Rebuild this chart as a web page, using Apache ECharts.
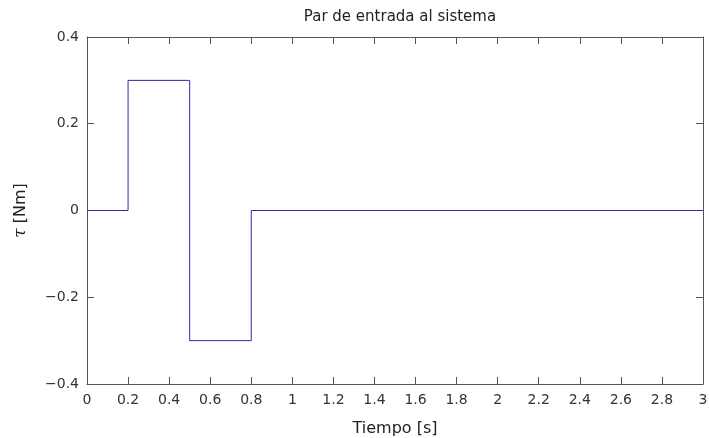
<!DOCTYPE html>
<html><head><meta charset="utf-8">
<script src="https://cdn.jsdelivr.net/npm/echarts@6/dist/echarts.min.js"></script>
<style>html,body{margin:0;padding:0;background:#fff}#c{width:709px;height:438px}</style>
</head><body><div id="c"></div>
<script>
const times = [0, 0.2, 0.5, 0.8, 3];
const torque = [0, 0.3, -0.3, 0, 0];
const xTicks = [0, 3, 0.2];
const yTicks = [-0.4, 0.4, 0.2];
const titleText = 'Par de entrada al sistema';
const xName = 'Tiempo [s]';

const font = 'DejaVu Sans';
const axisCol = '#555';
const lab = {color: '#333', fontFamily: font, fontSize: 14};
function fmt(v){ return (Math.abs(v) < 1e-9 ? '0' : String(+v.toFixed(1))).replace('-', '\u2212'); }

const chart = echarts.init(document.getElementById('c'));
const baseX = {type: 'value', min: xTicks[0], max: xTicks[1], interval: xTicks[2],
  axisLine: {show: true, onZero: false, lineStyle: {color: axisCol}},
  axisTick: {show: true, inside: true, length: 7, lineStyle: {color: axisCol}},
  splitLine: {show: false}};
const baseY = {type: 'value', min: yTicks[0], max: yTicks[1], interval: yTicks[2],
  axisLine: {show: true, onZero: false, lineStyle: {color: axisCol}},
  axisTick: {show: true, inside: true, length: 7, lineStyle: {color: axisCol}},
  splitLine: {show: false}};
chart.setOption({
  animation: false,
  title: {text: titleText, left: 395, top: 5, textAlign: 'center',
    textStyle: {color: '#222', fontFamily: font, fontSize: 15, fontWeight: 'normal'}},
  grid: {left: 87, right: 6, top: 37, bottom: 54, containLabel: false, outerBoundsMode: 'none'},
  xAxis: [
    Object.assign({}, baseX, {position: 'bottom', name: xName, nameLocation: 'middle', nameGap: 37,
      nameTextStyle: {color: '#222', fontFamily: font, fontSize: 16},
      axisLabel: Object.assign({margin: 9, formatter: fmt}, lab)}),
    Object.assign({}, baseX, {position: 'top', axisLabel: {show: false}})
  ],
  yAxis: [
    Object.assign({}, baseY, {position: 'left', name: '{i|\u03c4} [Nm]', nameLocation: 'middle', nameGap: 58, nameRotate: 90,
      nameTextStyle: {color: '#222', fontFamily: font, fontSize: 16,
        rich: {i: {fontStyle: 'italic', fontFamily: 'DejaVu Serif', fontSize: 17, color: '#222'}}},
      axisLabel: Object.assign({margin: 8, formatter: fmt}, lab)}),
    Object.assign({}, baseY, {position: 'right', axisLabel: {show: false}})
  ],
  series: [{
    type: 'line', step: 'end', showSymbol: false, symbol: 'none',
    data: times.map((t, i) => [t, torque[i]]),
    lineStyle: {color: '#2b2ba6', width: 1}
  }]
});
</script></body></html>
